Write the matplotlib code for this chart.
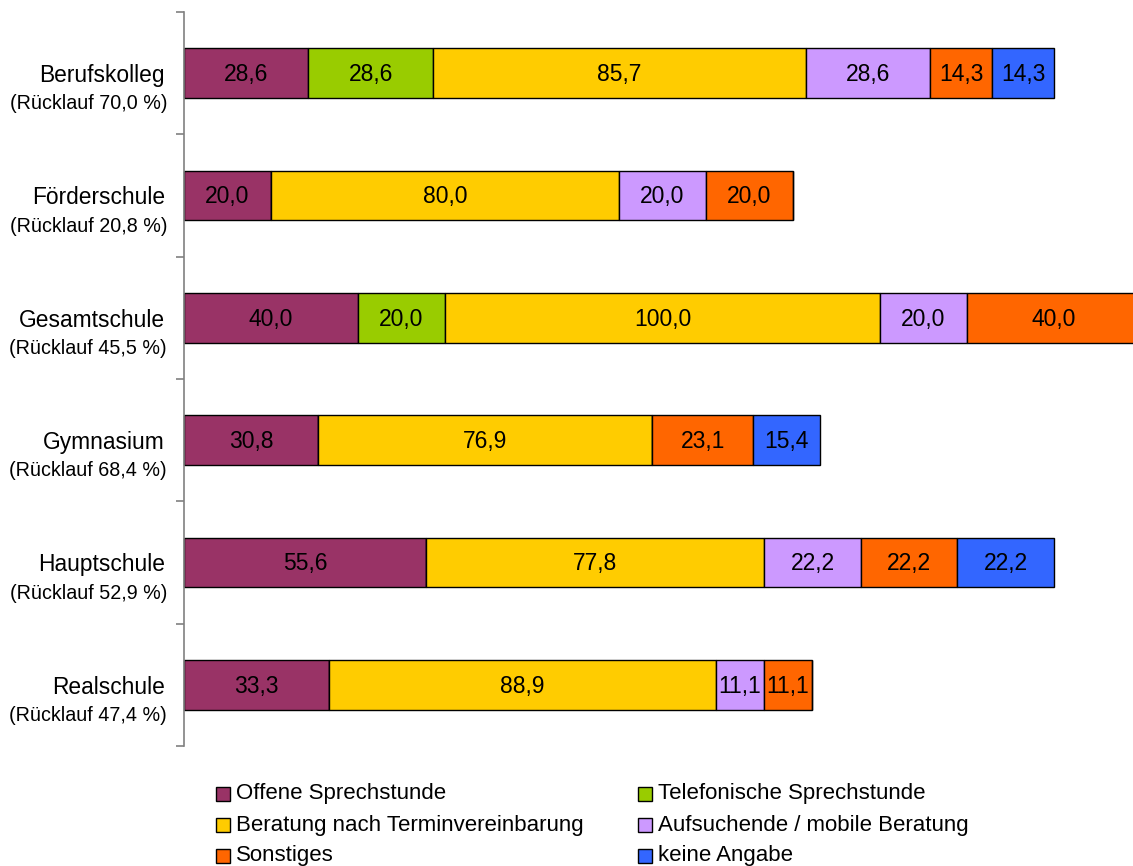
import matplotlib
matplotlib.use("Agg")
import matplotlib.pyplot as plt
from matplotlib.patches import Rectangle
from matplotlib.transforms import offset_copy
import numpy as np

plt.rcParams['font.family'] = ['Liberation Sans', 'DejaVu Sans']

schools = ["Berufskolleg", "Förderschule", "Gesamtschule", "Gymnasium", "Hauptschule", "Realschule"]
ruecklauf = ["70,0", "20,8", "45,5", "68,4", "52,9", "47,4"]

series_names = [
    "Offene Sprechstunde",
    "Telefonische Sprechstunde",
    "Beratung nach Terminvereinbarung",
    "Aufsuchende / mobile Beratung",
    "Sonstiges",
    "keine Angabe",
]
offene = [28.6, 20.0, 40.0, 30.8, 55.6, 33.3]
telefonisch = [28.6, 0.0, 20.0, 0.0, 0.0, 0.0]
termin = [85.7, 80.0, 100.0, 76.9, 77.8, 88.9]
aufsuchend = [28.6, 20.0, 20.0, 0.0, 22.2, 11.1]
sonstiges = [14.3, 20.0, 40.0, 23.1, 22.2, 11.1]
keine_angabe = [14.3, 0.0, 0.0, 15.4, 22.2, 0.0]

series = [offene, telefonisch, termin, aufsuchend, sonstiges, keine_angabe]
colors = ["#993366", "#99CC00", "#FFCC00", "#CC99FF", "#FF6600", "#3366FF"]

W, H = 1133, 866
fig = plt.figure(figsize=(W / 100, H / 100), dpi=100)

# axes spans past the right edge so the longest bar runs off the figure
ax_left, ax_top, ax_bottom = 184, 12, 746
px_per_unit = 4.35
ax_width_px = 220 * px_per_unit
ax = fig.add_axes([ax_left / W, 1 - ax_bottom / H, ax_width_px / W, (ax_bottom - ax_top) / H])
ax.set_xlim(0, 220)
ax.set_ylim(len(schools), 0)

ypos = np.arange(len(schools)) + 0.5
left = np.zeros(len(schools))
for vals, col in zip(series, colors):
    vals = np.array(vals)
    ax.barh(ypos, vals, left=left, height=0.405, color=col, edgecolor="black",
            linewidth=1.0, clip_on=False)
    for y, l, v in zip(ypos, left, vals):
        if v > 0:
            ax.text(l + v / 2, y + 0.012, f"{v:.1f}".replace(".", ","), ha="center",
                    va="center", fontsize=16.5)
    left += vals

for side in ["top", "right", "bottom"]:
    ax.spines[side].set_visible(False)
ax.spines["left"].set_color("#808080")
ax.spines["left"].set_linewidth(1.2)
ax.set_xticks([])
ax.set_yticks(np.arange(len(schools) + 1))
ax.set_yticklabels([])
ax.tick_params(axis="y", direction="out", length=6, width=1.2, color="#808080")

name_tr = offset_copy(ax.get_yaxis_transform(), fig=fig, x=-19, y=0, units="dots")
sub_tr = offset_copy(ax.get_yaxis_transform(), fig=fig, x=-17, y=0, units="dots")
for y, name, r in zip(ypos, schools, ruecklauf):
    ax.text(0, y + 0.02, name, ha="right", va="center", fontsize=16.4, transform=name_tr)
    ax.text(0, y + 0.25, f"(Rücklauf {r} %)", ha="right", va="center", fontsize=14.2,
            transform=sub_tr)

# legend: two columns, three rows
col_x = [216, 638]
row_y = [794, 825, 856]
box = 14
for i, (name, col) in enumerate(zip(series_names, colors)):
    cx = col_x[i % 2]
    cy = row_y[i // 2]
    fig.add_artist(Rectangle(((cx) / W, 1 - (cy + box / 2) / H), box / W, box / H,
                             facecolor=col, edgecolor="black", linewidth=1.0,
                             transform=fig.transFigure))
    fig.text((cx + box + 6) / W, 1 - cy / H, name, ha="left", va="center", fontsize=16)

fig.savefig("out.png", dpi=100)
